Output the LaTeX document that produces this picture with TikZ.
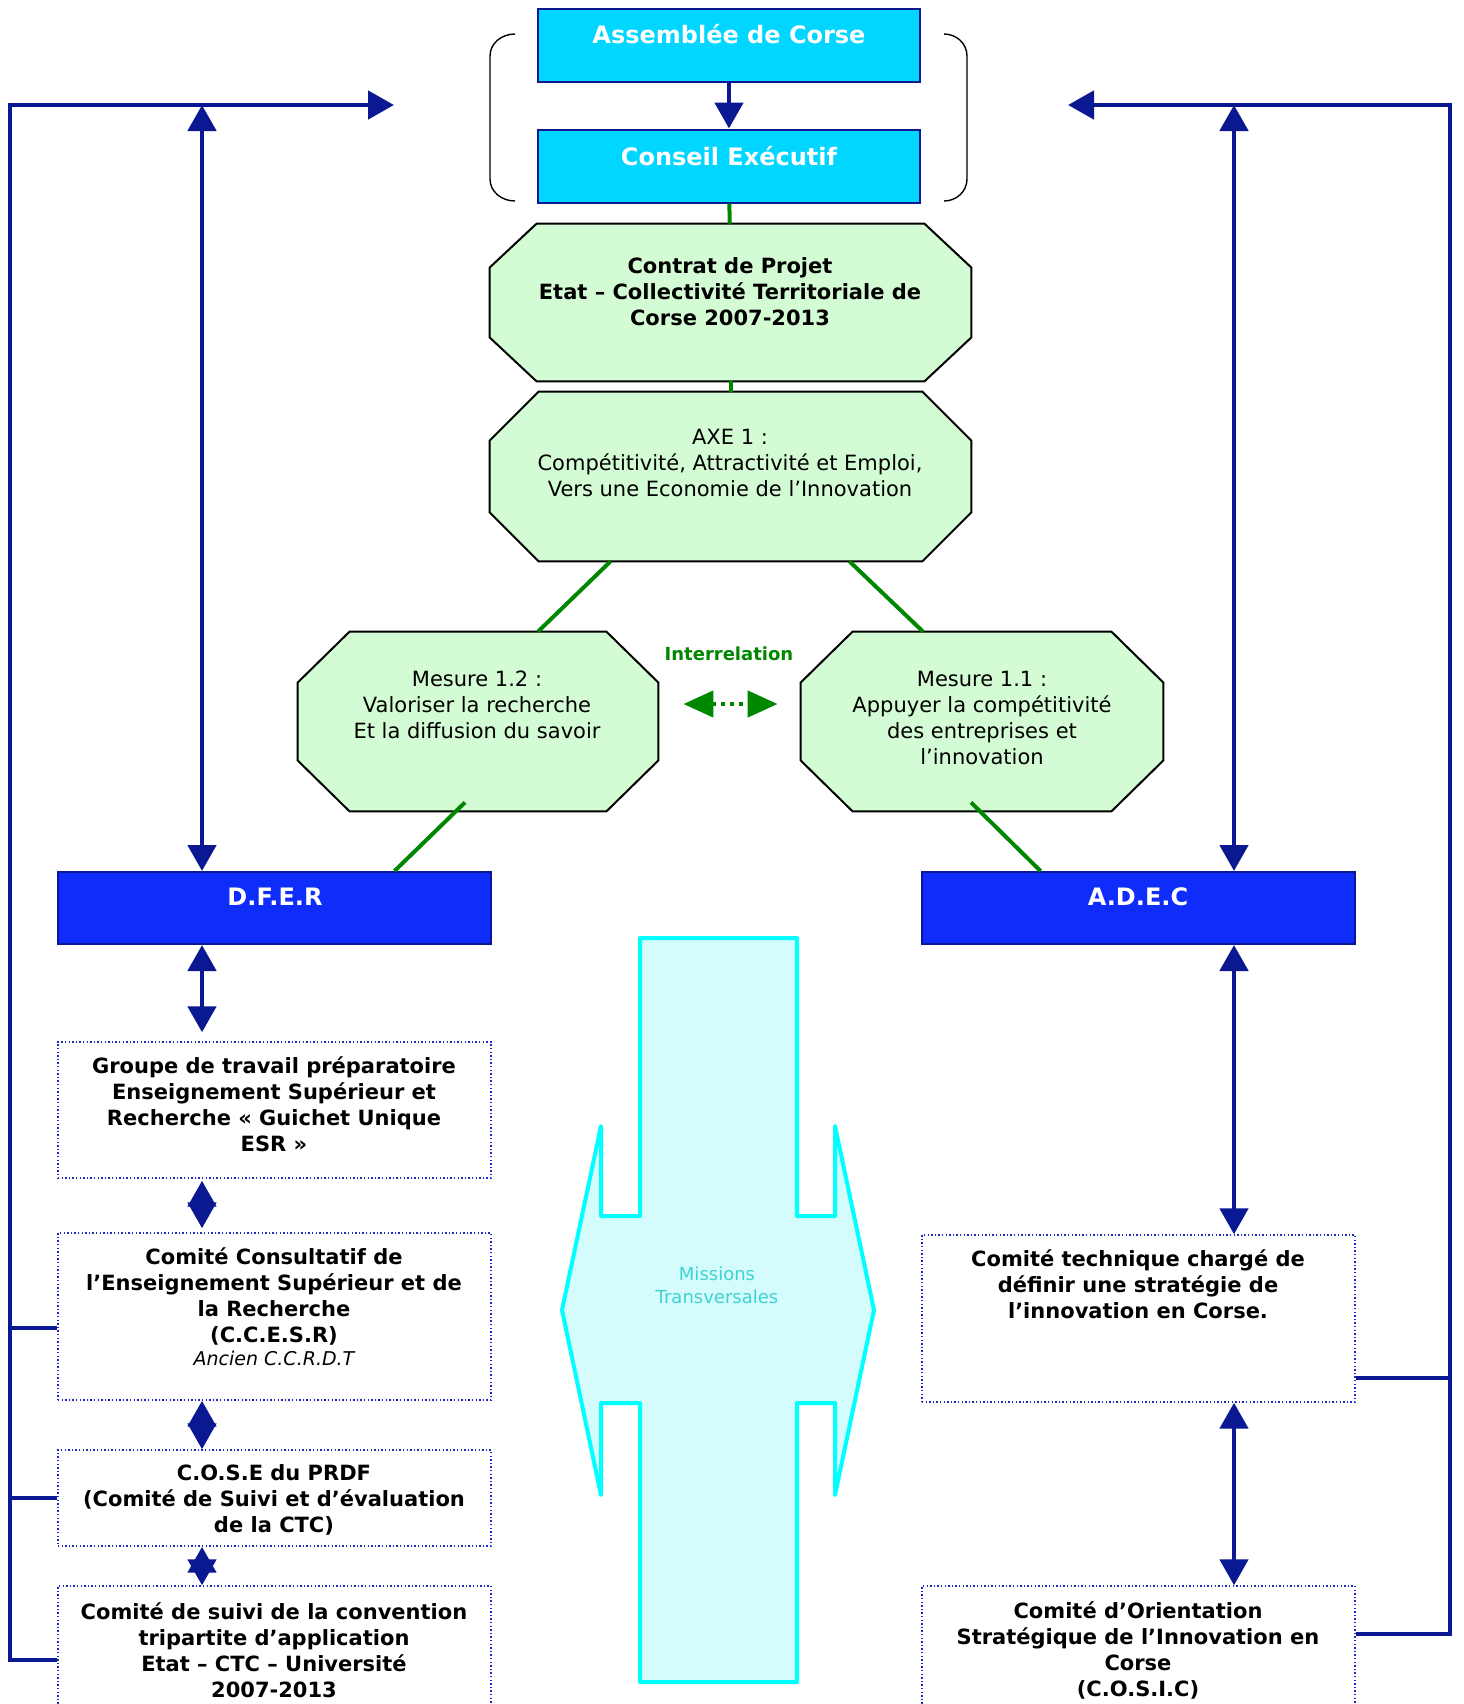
\documentclass[tikz,border=0pt]{standalone}
\usepackage{fontspec}
\setmainfont{DejaVu Sans}
\usetikzlibrary{arrows.meta,positioning,calc}
\definecolor{navyline}{RGB}{10,25,145}
\definecolor{cyanbox}{RGB}{0,214,255}
\definecolor{bluebox}{RGB}{15,45,250}
\definecolor{octgreen}{RGB}{212,252,212}
\definecolor{linkgreen}{RGB}{0,135,0}
\definecolor{dotblue}{RGB}{30,40,200}
\definecolor{misfill}{RGB}{212,252,252}
\definecolor{misline}{RGB}{0,255,255}
\definecolor{mistext}{RGB}{64,210,210}
% octagon round a node: name, horizontal cut, vertical cut
\newcommand{\octround}[3]{%
  \filldraw[draw=black,fill=octgreen,line width=1pt]
    ($(#1.north west)+(#2,0pt)$) -- ($(#1.north east)+(-#2,0pt)$)
    -- ($(#1.north east)+(0pt,-#3)$) -- ($(#1.south east)+(0pt,#3)$)
    -- ($(#1.south east)+(-#2,0pt)$) -- ($(#1.south west)+(#2,0pt)$)
    -- ($(#1.south west)+(0pt,#3)$) -- ($(#1.north west)+(0pt,-#3)$) -- cycle;}

\begin{document}
\begin{tikzpicture}[x=0.5pt,y=-0.5pt]
\tikzset{
    cbox/.style={rectangle,draw=navyline,line width=1pt,fill=cyanbox,minimum width=191pt,minimum height=36.5pt,inner sep=0pt},
    dbox/.style={rectangle,draw=navyline,line width=1pt,fill=bluebox,minimum width=216.5pt,minimum height=36pt,inner sep=0pt},
    dotbox/.style={rectangle,draw=dotblue,line width=0.7pt,dash pattern=on 0.7pt off 1.1pt,minimum width=216.5pt,inner sep=0pt},
    octa/.style={rectangle,inner sep=0pt},
    wtxt/.style={text=white,font=\fontsize{12}{14}\selectfont\bfseries,inner sep=0pt},
    btxt/.style={align=center,font=\fontsize{10.5}{13}\selectfont\bfseries,inner sep=0pt},
    ntxt/.style={align=center,font=\fontsize{10.5}{13}\selectfont,inner sep=0pt},
    mtxt/.style={align=center,text=mistext,font=\fontsize{9}{11.5}\selectfont,inner sep=0pt},
    gtxt/.style={text=linkgreen,font=\fontsize{9}{11}\selectfont\bfseries,inner sep=0pt},
    link/.style={draw=navyline,line width=2.4pt,>={Triangle[length=13pt,width=14pt]}},
    gline/.style={draw=linkgreen,line width=2pt},
    interarrow/.style={draw=linkgreen,line width=2.2pt,dash pattern=on 2pt off 2.4pt,>={Triangle[length=15pt,width=13pt]}}
}
\clip (0,0) rectangle (1463,1704);
% shapes
\node[cbox] (ass) at (729,45.5) {};
\node[cbox] (cons) at (729,166) {};
\node[octa,minimum width=240.5pt,minimum height=78.5pt] (contrat) at (730.5,302.5) {};
\node[octa,minimum width=240.5pt,minimum height=84.5pt] (axe) at (730.5,476.5) {};
\node[octa,minimum width=180pt,minimum height=89.5pt] (m12) at (478,721.5) {};
\node[octa,minimum width=181pt,minimum height=89.5pt] (m11) at (982,721.5) {};
\octround{contrat}{23.5pt}{22pt}
\octround{axe}{24.5pt}{24.5pt}
\octround{m12}{26pt}{25.5pt}
\octround{m11}{26pt}{25.5pt}
\node[dbox] (dfer) at (274.5,908) {};
\node[dbox] (adec) at (1138.5,908) {};
\node[dotbox,minimum height=68pt] (groupe) at (274.5,1110) {};
\node[dotbox,minimum height=83.5pt] (ccesr) at (274.5,1316.5) {};
\node[dotbox,minimum height=48pt] (cose) at (274.5,1498) {};
\node[dotbox,minimum height=74pt] (suivi) at (274.5,1660) {};
\node[dotbox,minimum height=83.5pt] (tech) at (1138.5,1318.5) {};
\node[dotbox,minimum height=74pt] (cosic) at (1138.5,1660) {};
% missions transversales
\draw[draw=misline,fill=misfill,line width=2pt,line join=round] (640,938) -- (797,938) -- (797,1216) -- (835,1216) -- (835,1126) -- (874,1310) -- (835,1495) -- (835,1403) -- (797,1403) -- (797,1682) -- (640,1682) -- (640,1403) -- (601,1403) -- (601,1495) -- (562,1310) -- (601,1126) -- (601,1216) -- (640,1216) -- cycle;
% brackets
\draw[line width=0.7pt] (515,34) to[out=180,in=90] (490,56) -- (490,179) to[out=-90,in=180] (515,201);
\draw[line width=0.7pt] (944,34) to[out=0,in=90] (967,56) -- (967,179) to[out=-90,in=0] (944,201);
% texts
\node[wtxt,anchor=base] (assT) at (729,43) {Assemblée de Corse};
\node[wtxt,anchor=base] (consT) at (729,165) {Conseil Exécutif};
\node[btxt] (contratT) at (730,292) {Contrat de Projet\\Etat – Collectivité Territoriale de\\Corse 2007-2013};
\node[ntxt] (axeT) at (730,463) {AXE 1 :\\Compétitivité, Attractivité et Emploi,\\Vers une Economie de l’Innovation};
\node[ntxt] (m12T) at (477,705) {Mesure 1.2 :\\Valoriser la recherche\\Et la diffusion du savoir};
\node[ntxt] (m11T) at (982,718) {Mesure 1.1 :\\Appuyer la compétitivité\\des entreprises et\\l’innovation};
\node[gtxt,anchor=base] (inter) at (729,660) {Interrelation};
\node[wtxt,anchor=base] (dferT) at (275,905) {D.F.E.R};
\node[wtxt,anchor=base] (adecT) at (1138,905) {A.D.E.C};
\node[btxt] (groupeT) at (274,1104) {Groupe de travail préparatoire\\Enseignement Supérieur et\\Recherche « Guichet Unique\\ESR »};
\node[btxt] (ccesrT) at (274,1307) {Comité Consultatif de\\l’Enseignement Supérieur et de\\la Recherche\\(C.C.E.S.R)\\[-1.5pt]{\mdseries\itshape\fontsize{9.5}{11}\selectfont Ancien C.C.R.D.T}};
\node[btxt] (coseT) at (274,1500) {C.O.S.E du PRDF\\(Comité de Suivi et d’évaluation\\de la CTC)};
\node[btxt] (suiviT) at (274,1650) {Comité de suivi de la convention\\tripartite d’application\\Etat – CTC – Université\\2007-2013};
\node[btxt] (techT) at (1138,1284) {Comité technique chargé de\\définir une stratégie de\\l’innovation en Corse.};
\node[btxt] (cosicT) at (1138,1650) {Comité d’Orientation\\Stratégique de l’Innovation en\\Corse\\(C.O.S.I.C)};
\node[mtxt] (missions) at (717,1285.5) {Missions\\Transversales};
% green links
\path
(cons) edge[gline] (contrat)
(contrat) edge[gline] (axe)
([xshift=-60pt]axe.south) edge[gline] ([xshift=30pt]m12.north)
([xshift=59.5pt]axe.south) edge[gline] ([xshift=-29.5pt]m11.north)
([xshift=-6.5pt,yshift=4.5pt]m12.south) edge[gline] ([xshift=60pt]dfer.north)
([xshift=-5.5pt,yshift=4.5pt]m11.south) edge[gline] ([xshift=-49pt]adec.north)
;
\draw[interarrow,<->,shorten <=12.5pt,shorten >=11.5pt] ([yshift=8.75pt]m12.east) -- ([yshift=8.75pt]m11.west);
% navy links
\coordinate (lcorner) at (10,105);
\coordinate (ltip) at (394,105);
\coordinate (rcorner) at (1450,105);
\coordinate (rtip) at (1068,105);
\draw[link,->] (ass) -- (cons);
\draw[link,->,line join=miter] (suivi.west) -| (lcorner) -- (ltip);
\draw[link] (cose.west) -- (cose.west -| lcorner);
\draw[link] ([yshift=-5.75pt]ccesr.west) coordinate (c1) -- (c1 -| lcorner);
\draw[link,<->] ([xshift=-36.25pt]dfer.north) coordinate (d1) -- (d1 |- lcorner);
\draw[link,<->,shorten >=4.5pt] ([xshift=-36.25pt]dfer.south) -- ([xshift=-36.25pt]groupe.north);
\draw[link,<->,shorten <=1pt,shorten >=2pt] ([xshift=-36.25pt]groupe.south) -- ([xshift=-36.25pt]ccesr.north);
\draw[link,<->] ([xshift=-36.25pt]ccesr.south) -- ([xshift=-36.25pt]cose.north);
\draw[link,<->] ([xshift=-36.25pt]cose.south) -- ([xshift=-36.25pt]suivi.north);
\draw[link,->,line join=miter] ([yshift=13pt]cosic.east) -| (rcorner) -- (rtip);
\draw[link] ([yshift=-29.75pt]tech.east) coordinate (t1) -- (t1 -| rcorner);
\draw[link,<->] ([xshift=47.75pt]adec.north) coordinate (a1) -- (a1 |- rcorner);
\draw[link,<->] ([xshift=47.75pt]adec.south) -- ([xshift=47.75pt]tech.north);
\draw[link,<->] ([xshift=47.75pt]tech.south) -- ([xshift=47.75pt]cosic.north);
\end{tikzpicture}
\end{document}
